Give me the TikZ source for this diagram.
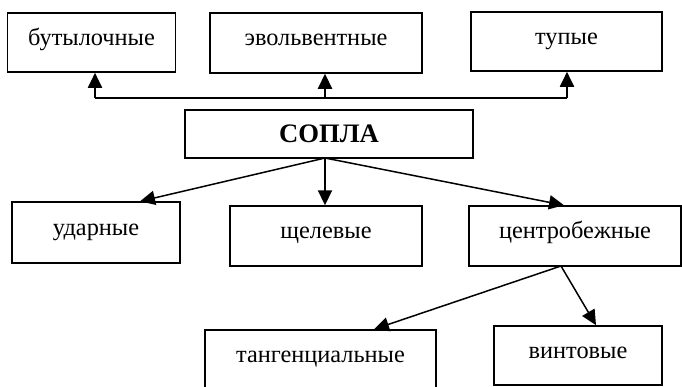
\documentclass[tikz,border=0pt]{standalone}
\usepackage{fontspec}
\setmainfont{Liberation Serif}
\usetikzlibrary{arrows.meta}

\begin{document}
\begin{tikzpicture}[x=0.6pt, y=-0.6pt,
    box/.style={draw, line width=0.9pt, inner sep=0pt, text height=0.6em, text depth=0.25em,
      font=\fontsize{14.6}{17}\selectfont},
    arr/.style={-{Triangle[length=9pt,width=8.5pt]}, line width=0.9pt}]
  \useasboundingbox (0,0) rectangle (682,386);
  \clip (0,0) rectangle (682,386);
  % top row
  \node[box, minimum width=101pt, minimum height=35.5pt] (but) at (91.5,42.5) {бутылочные};
  \node[box, minimum width=127pt, minimum height=36pt] (evol) at (316,43) {эвольвентные};
  \node[box, minimum width=114.5pt, minimum height=35.5pt] (tup) at (566.5,41.5) {тупые};
  % root
  \node[box, minimum width=173pt, minimum height=29pt, text height=1em, text depth=0pt,
    font=\fontsize{16}{19}\selectfont\bfseries] (sopla) at (329,134) {СОПЛА};
  % middle row
  \node[box, minimum width=101pt, minimum height=36.5pt] (udar) at (96,232.5) {ударные};
  \node[box, minimum width=115pt, minimum height=36pt] (shchel) at (326,236) {щелевые};
  \node[box, minimum width=127pt, minimum height=36pt] (centr) at (575,236) {центробежные};
  % bottom row
  \node[box, minimum width=138.5pt, minimum height=36pt] (tang) at (320.5,360) {тангенциальные};
  \node[box, minimum width=101pt, minimum height=35.5pt] (vint) at (578,355.5) {винтовые};

  \coordinate (bus1) at (95,98);
  \coordinate (bus2) at (325,98);
  \coordinate (bus3) at (567,98);
  \coordinate (fan) at (325,158);
  \coordinate (fan2) at (561,266);

  \draw[line width=0.9pt] (bus1) -- (bus3);
  \draw[arr] (bus1) -- (bus1 |- but.south);
  \draw[arr] (bus2) -- (bus2 |- evol.south);
  \draw[arr] (bus3) -- (bus3 |- tup.south);

  \draw[arr] (fan) -- (udar.north -| 140,0);
  \draw[arr] (fan) -- (fan |- shchel.north);
  \draw[arr] (fan) -- (centr.north -| 564,0);

  \draw[arr] (fan2) -- (tang.north -| 374,0);
  \draw[arr] (fan2) -- (vint.north -| 596,0);
\end{tikzpicture}
\end{document}
